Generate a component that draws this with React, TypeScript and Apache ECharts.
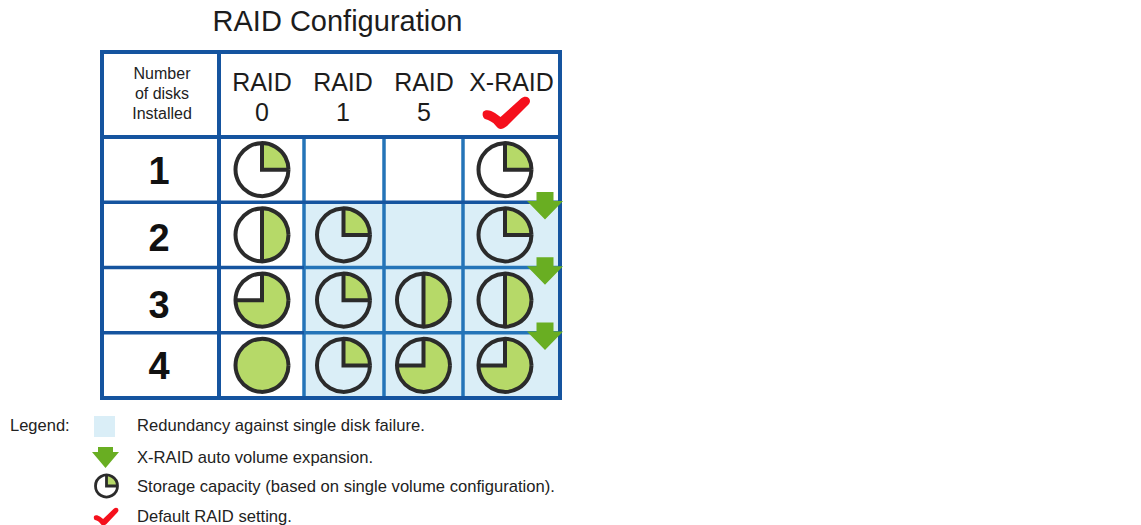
import React, { useEffect, useRef } from "react";
import * as echarts from "echarts";

const titleText = "RAID Configuration";
const headerLines = ["Number", "of disks", "Installed"];
const columnNames = ["RAID\n0", "RAID\n1", "RAID\n5", "X-RAID"];
const diskCounts = ["1", "2", "3", "4"];
// storage capacity (fraction of the circle) per disk count; null = not available
const raid0 = [0.25, 0.5, 0.75, 1];
const raid1 = [null, 0.25, 0.25, 0.25];
const raid5 = [null, null, 0.5, 0.75];
const xRaid = [0.25, 0.25, 0.5, 0.75];
const capacities = [raid0, raid1, raid5, xRaid];
// redundancy cells as [column, row]
const redundantCells = [
  [1, 1], [2, 1], [3, 1],
  [1, 2], [2, 2], [3, 2],
  [1, 3], [2, 3], [3, 3],
];
const expansionRows = [[1], [2], [3]];
const legendTexts = [
  "Redundancy against single disk failure.",
  "X-RAID auto volume expansion.",
  "Storage capacity (based on single volume configuration).",
  "Default RAID setting.",
];

// layout (pixels)
const colEdges = [219, 304, 384, 463, 560];
const circleX = [262, 343.5, 423.5, 505];
const headerX = [262, 343, 424, 511.5];
const rowLabelNudge = [1, 3, 5, 1];
const LEFT = 102, TOP = 52, HEAD = 137, BOTTOM = 398;
const DARK = "#15549f", MID = "#2474b8", GREEN = "#b6d968", ARROW = "#69ae22", PALE = "#daeef7", INK = "#2b2b2b", RED = "#f5101c";
const FONT = "Liberation Sans";
const CHECK = "M0 15 C2 12 8 13 12 16 L17.5 20 L38 1.5 C42 -2 47 0 47 4 C47 6 46 7 44 9 L24 29 C19 33 16 33 13 29 C10 25 6 23 2 22 C0 21 -1 18 0 15 Z";
echarts.graphic.registerShape("tick", echarts.graphic.extendPath(CHECK as any, {}) as any);

const arrowPoints = (cx: number, top: number, w: number, stem: number, neck: number, h: number) => [
  [cx - stem / 2, top], [cx + stem / 2, top], [cx + stem / 2, top + neck], [cx + w / 2, top + neck],
  [cx, top + h], [cx - w / 2, top + neck], [cx - stem / 2, top + neck],
];

function pie(cx: number, cy: number, r: number, frac: number, lw: number) {
  const start = -Math.PI / 2;
  const end = start + frac * 2 * Math.PI;
  const parts: any[] = [
    { type: "circle", shape: { cx, cy, r }, style: { fill: frac >= 1 ? GREEN : "rgba(0,0,0,0)", stroke: INK, lineWidth: lw } },
  ];
  if (frac < 1) {
    parts.unshift({ type: "sector", shape: { cx, cy, r0: 0, r, startAngle: start, endAngle: end, clockwise: true }, style: { fill: GREEN } });
    const ex = cx + r * Math.cos(end), ey = cy + r * Math.sin(end);
    parts.push({ type: "polyline", shape: { points: [[cx, cy - r], [cx, cy], [ex, ey]] }, style: { fill: "none", stroke: INK, lineWidth: lw } });
  }
  return parts;
}

export default function App() {
  const ref = useRef<HTMLDivElement>(null);
  useEffect(() => {
    const chart = echarts.init(ref.current!, undefined, { renderer: "svg" });

    const pieData: any[] = [];
    capacities.forEach((col, c) => col.forEach((f, r) => { if (f !== null) pieData.push([c, r, f]); }));

    const rowPx = (api: any, r: number) => api.coord([219, r]);
    const option: any = {
      animation: false,
      backgroundColor: "#fff",
      title: {
        text: titleText, left: 332.5, top: 1.5, textAlign: "center",
        textStyle: { fontFamily: FONT, fontSize: 29, fontWeight: "normal", color: "#1c1c1c" },
      },
      grid: { left: 219, right: 1141 - 560, top: HEAD, bottom: 525 - BOTTOM },
      xAxis: { type: "value", min: 219, max: 560, show: false },
      yAxis: {
        type: "category", inverse: true, data: diskCounts,
        axisLine: { show: false }, axisTick: { show: false }, axisLabel: { show: false },
      },
      series: [
        {
          type: "custom", z: 1, clip: false, data: redundantCells,
          renderItem: (_p: any, api: any) => {
            const c = api.value(0), r = api.value(1);
            const y = rowPx(api, r)[1], h = api.size([0, 1])[1];
            return { type: "rect", shape: { x: colEdges[c], y: y - h / 2, width: colEdges[c + 1] - colEdges[c], height: h }, style: { fill: PALE } };
          },
          encode: { x: -1, y: 1 },
        },
        {
          type: "custom", z: 2, clip: false, data: [[0]],
          renderItem: () => {
            const rowH = (BOTTOM - HEAD) / 4;
            const line = (x1: number, y1: number, x2: number, y2: number, stroke: string, lineWidth: number) => ({ type: "line", shape: { x1, y1, x2, y2 }, style: { stroke, lineWidth } });
            const kids: any[] = [];
            [1, 2, 3].forEach((i) => kids.push(line(colEdges[i], HEAD, colEdges[i], BOTTOM, MID, 3.5)));
            [1, 2, 3].forEach((i) => {
              const y = HEAD + i * rowH;
              kids.push(line(LEFT, y, 304, y, DARK, 3.5));
              kids.push(line(304, y, 560, y, i === 1 ? DARK : MID, 3.5));
            });
            kids.push(line(colEdges[0], TOP, colEdges[0], BOTTOM, DARK, 4));
            kids.push(line(LEFT, HEAD, 560, HEAD, DARK, 4));
            kids.push({ type: "rect", shape: { x: LEFT, y: TOP, width: 560 - LEFT, height: BOTTOM - TOP }, style: { fill: "none", stroke: DARK, lineWidth: 4 } });
            return { type: "group", children: kids };
          },
          encode: { x: -1, y: 0 },
        },
        {
          type: "custom", z: 3, clip: false, data: diskCounts.map((_, i) => [i]),
          renderItem: (_p: any, api: any) => {
            const r = api.value(0);
            return {
              type: "text", x: 159, y: rowPx(api, r)[1] + rowLabelNudge[r],
              style: { text: diskCounts[r], fontFamily: FONT, fontSize: 38, fontWeight: "bold", fill: "#111", align: "center", verticalAlign: "middle" },
            };
          },
          encode: { x: -1, y: 0 },
        },
        {
          type: "custom", z: 3, clip: false, data: pieData,
          renderItem: (_p: any, api: any) => {
            const c = api.value(0), r = api.value(1), f = api.value(2);
            const cy = rowPx(api, r)[1];
            return { type: "group", children: pie(circleX[c], cy, 26.5, f, 4) };
          },
          encode: { x: -1, y: 1 },
        },
        {
          type: "custom", z: 4, clip: false, data: expansionRows,
          renderItem: (_p: any, api: any) => {
            const cy = rowPx(api, api.value(0))[1];
            return { type: "polygon", shape: { points: arrowPoints(545, cy - 43, 36, 17, 9, 27.5) }, style: { fill: ARROW } };
          },
          encode: { x: -1, y: 0 },
        },
      ],
      graphic: [
        ...headerLines.map((t, i) => ({
          type: "text", x: 162, y: 73 + i * 20,
          style: { text: t, fontFamily: FONT, fontSize: 16, fill: "#222", align: "center", verticalAlign: "middle" },
        })),
        ...columnNames.map((t, i) => ({
          type: "text", x: headerX[i], y: 97 - (t.includes("\n") ? 0 : 15),
          style: { text: t, fontFamily: FONT, fontSize: 25, lineHeight: 30, fill: "#1c1c1c", align: "center", verticalAlign: "middle" },
        })),
        { type: "tick", x: 483, y: 97, scaleX: 1, scaleY: 1, style: { fill: RED } },
        { type: "text", x: 10, y: 425, style: { text: "Legend:", fontFamily: FONT, fontSize: 16.5, fill: "#222", verticalAlign: "middle" } },
        { type: "rect", shape: { x: 94, y: 416, width: 21, height: 21 }, style: { fill: PALE } },
        { type: "polygon", shape: { points: arrowPoints(105.5, 447, 27, 15, 5, 21) }, style: { fill: ARROW } },
        { type: "group", children: pie(106.5, 486, 11, 0.25, 2.8) },
        { type: "tick", x: 94, y: 508, scaleX: 0.52, scaleY: 0.55, style: { fill: RED } },
        ...legendTexts.map((t, i) => ({
          type: "text", x: 137, y: [425, 457, 486, 516][i],
          style: { text: t, fontFamily: FONT, fontSize: 16.6, fill: "#222", verticalAlign: "middle" },
        })),
      ],
    };
    chart.setOption(option);
    return () => chart.dispose();
  }, []);
  return <div ref={ref} style={{ position: "absolute", left: 0, top: 0, width: 1141, height: 525 }} />;
}
